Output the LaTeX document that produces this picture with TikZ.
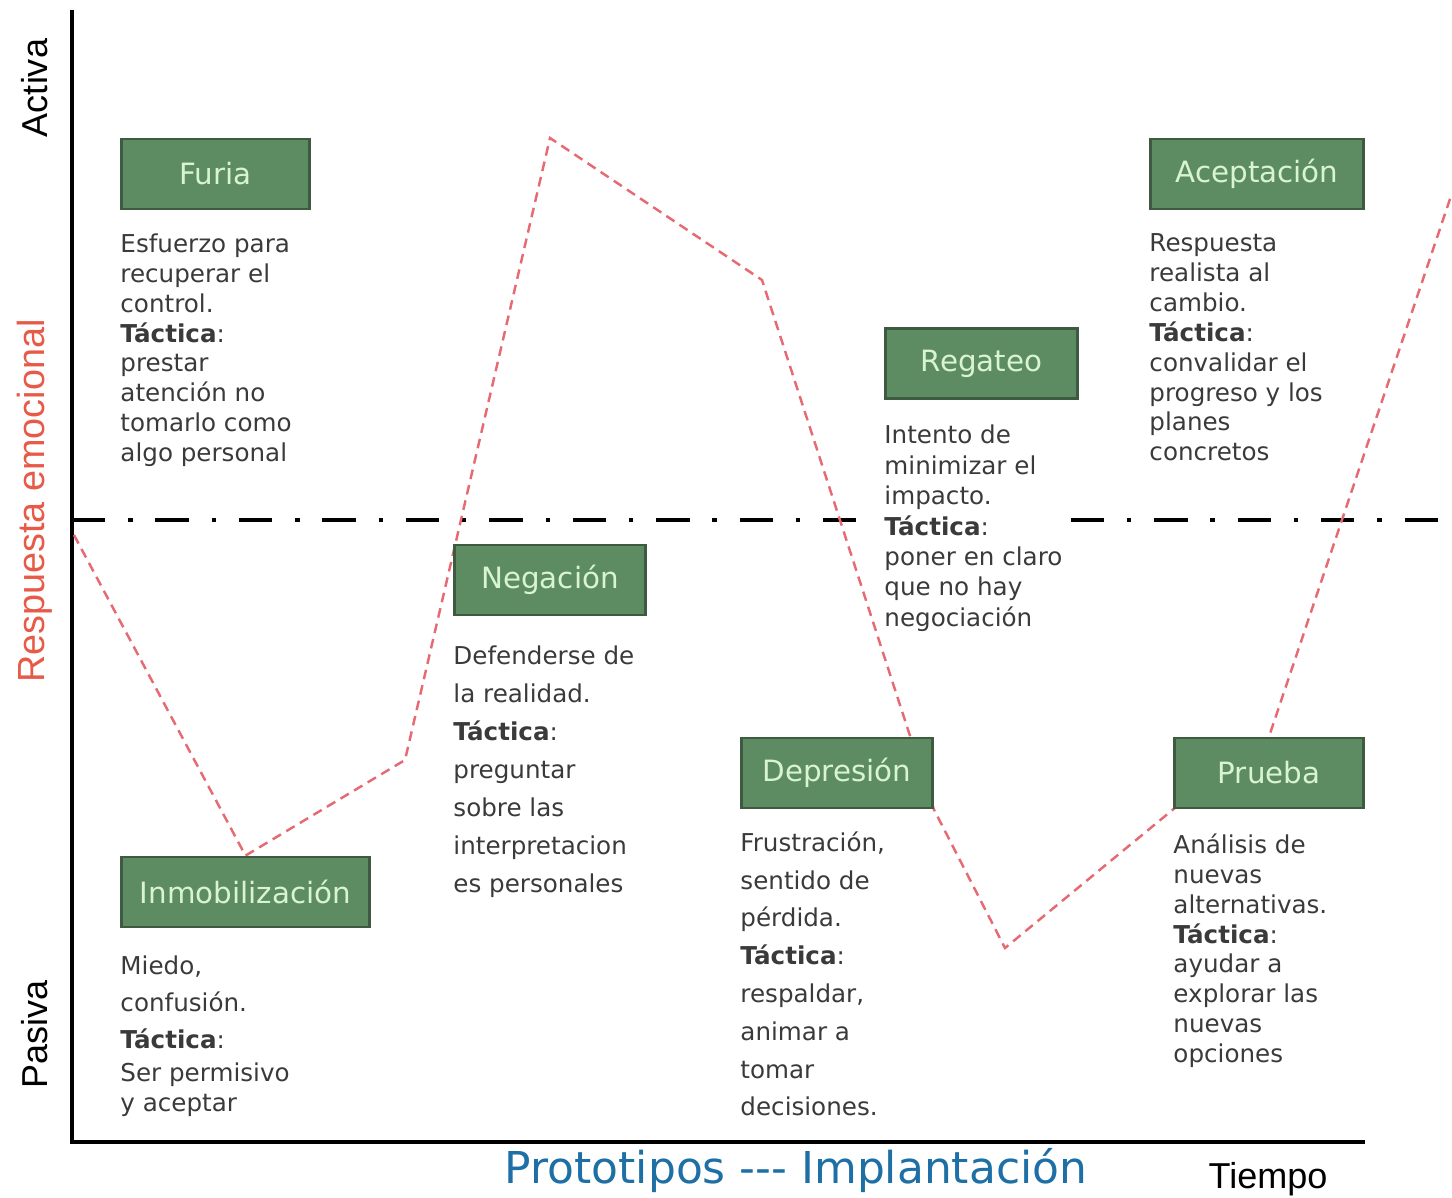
\documentclass[tikz,border=0pt]{standalone}
\usepackage{fontspec}
\setmainfont{DejaVu Sans}
\newfontfamily\axisfont{Liberation Sans}
\usetikzlibrary{positioning,backgrounds}

\definecolor{stagefill}{HTML}{5E8C62}
\definecolor{stageline}{HTML}{3E5A40}
\definecolor{stagetext}{HTML}{D8F4D0}
\definecolor{notegray}{HTML}{3A3A3A}
\definecolor{curvered}{HTML}{E66A72}
\definecolor{respred}{HTML}{E85A48}
\definecolor{protoblue}{HTML}{1D6FA5}

\begin{document}
\begin{tikzpicture}[x=0.02cm, y=-0.02cm,
  stage/.style={draw=stageline, line width=1.6pt, fill=stagefill, text=stagetext,
    font=\fontsize{16.7}{20}\selectfont, minimum height=1.4cm, inner sep=0pt},
  note/.style={inner sep=0pt, align=left, text=notegray, font=\fontsize{14}{17}\selectfont},
  axisline/.style={line width=2.3pt},
  midline/.style={line width=2.3pt, dash pattern=on 19pt off 13pt on 2.5pt off 13pt},
  redcurve/.style={draw=curvered, line width=1.4pt, dash pattern=on 5.5pt off 3.5pt},
  axislabel/.style={font=\axisfont\fontsize{20.5}{24}\selectfont}]
  \useasboundingbox (0,0) rectangle (1452,1197);

  % Stage boxes
  \node[stage, minimum width=3.76cm] (furia) at (215.5,174) {Furia};
  \node[stage, minimum width=4.96cm] (inmo) at (245.5,892) {Inmobilización};
  \node[stage, minimum width=3.82cm] (negacion) at (550,580) {Negación};
  \node[stage, minimum width=3.82cm] (depresion) at (837,773) {Depresión};
  \node[stage, minimum width=3.84cm] (regateo) at (981.5,363.5) {Regateo};
  \node[stage, minimum width=3.78cm] (prueba) at (1269,773) {Prueba};
  \node[stage, minimum width=4.26cm] (aceptacion) at (1257,174) {Aceptación};

  % Descriptions under each box
  \node[note, below right=0.46cm and 0cm of furia.south west] (furiaTxt)
    {Esfuerzo para\\ recuperar el\\ control.\\ \textbf{Táctica}:\\ prestar\\ atención no\\ tomarlo como\\ algo personal};
  \node[note, below right=0.54cm and 0cm of inmo.south west] (inmoTxt)
    {Miedo,\\[4pt] confusión.\\[4pt] \textbf{Táctica}:\\[2pt] Ser permisivo\\ y aceptar};
  \node[note, font=\fontsize{14}{21.6}\selectfont, below right=0.58cm and 0cm of negacion.south west] (negacionTxt)
    {Defenderse de\\ la realidad.\\ \textbf{Táctica}:\\ preguntar\\ sobre las\\ interpretacion\\ es personales};
  \node[note, font=\fontsize{14}{21.5}\selectfont, below right=0.44cm and 0cm of depresion.south west] (depresionTxt)
    {Frustración,\\ sentido de\\ pérdida.\\ \textbf{Táctica}:\\ respaldar,\\ animar a\\ tomar\\ decisiones.};
  \node[note, font=\fontsize{14}{17.3}\selectfont, below right=0.5cm and 0cm of regateo.south west] (regTxt)
    {Intento de\\ minimizar el\\ impacto.\\ \textbf{Táctica}:\\ poner en claro\\ que no hay\\ negociación};
  \node[note, below right=0.48cm and 0cm of prueba.south west] (pruebaTxt)
    {Análisis de\\ nuevas\\ alternativas.\\ \textbf{Táctica}:\\ ayudar a\\ explorar las\\ nuevas\\ opciones};
  \node[note, below right=0.46cm and 0cm of aceptacion.south west] (aceptacionTxt)
    {Respuesta\\ realista al\\ cambio.\\ \textbf{Táctica}:\\ convalidar el\\ progreso y los\\ planes\\ concretos};

  % Axis labels
  \node[axislabel, rotate=90] (activa) at (35,88) {Activa};
  \node[axislabel, rotate=90, text=respred, font=\axisfont\fontsize{21.5}{24}\selectfont] (respuesta) at (35,501) {Respuesta emocional};
  \node[axislabel, rotate=90] (pasiva) at (35,1034) {Pasiva};
  \node[axislabel, anchor=base] (tiempo) at (1268,1188) {Tiempo};
  \node[text=protoblue, font=\fontsize{25}{30}\selectfont, anchor=base] (proto) at (796,1183)
    {Prototipos \mbox{-}\mbox{-}\mbox{-} Implantación};

  \begin{scope}[on background layer]
    % Axes
    \coordinate (ytop) at (72,10);
    \coordinate (orig) at (72,1142);
    \coordinate (xend) at (1365,1142);
    \draw[axisline] (ytop) -- (orig) -- (xend);

    % Middle line, broken around the Regateo text
    \coordinate (midl) at (72,520);
    \coordinate (midr) at (1440,520);
    \path (midl -| regTxt.west) ++(-0.44cm,0) coordinate (gapl);
    \path (midl -| regTxt.east) ++(0.16cm,0) coordinate (gapr);
    \draw[midline] (midl) -- (gapl);
    \draw[midline] (gapr) -- (midr);

    % Emotional response curve
    \coordinate (c0) at (74,535);
    \coordinate (c1) at (405,760);
    \coordinate (c2) at (550,138);
    \coordinate (c3) at (762,280);
    \coordinate (c5) at (1005,948);
    \coordinate (c6) at (1452,193);
    \draw[redcurve] (c0) -- (inmo.north) -- (c1) -- (c2) -- (c3) -- (depresion.south east) -- (c5)
      -- (prueba.south west) -- (prueba.north) -- (c6);
  \end{scope}
\end{tikzpicture}
\end{document}
